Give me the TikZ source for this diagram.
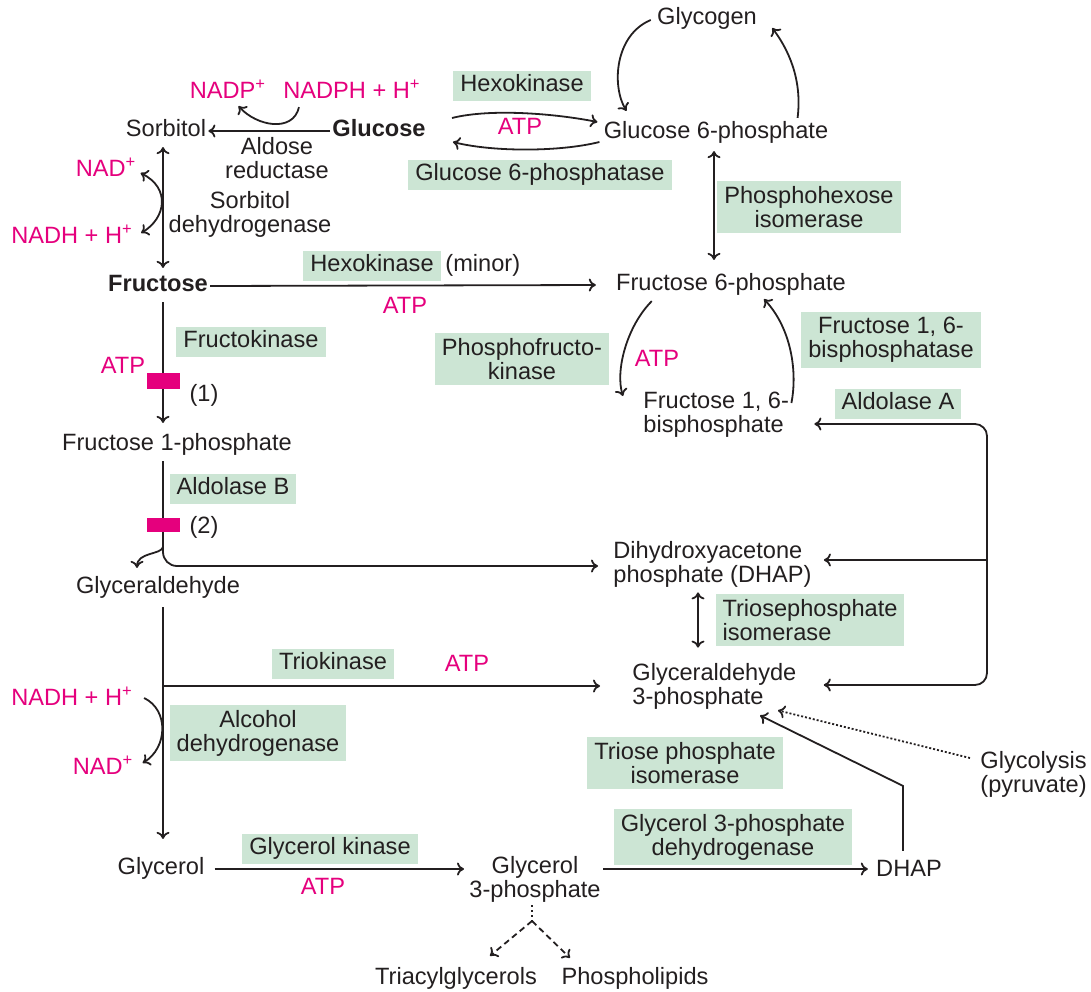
\documentclass[tikz,border=0pt]{standalone}
\usepackage{fontspec}
\setmainfont{Liberation Sans}
\usepackage{tikz}
\usetikzlibrary{arrows.meta, positioning, calc}
\definecolor{pathInk}{HTML}{231F20}
\definecolor{pathCofactor}{HTML}{E5007D}
\definecolor{pathEnzyme}{HTML}{CCE5D4}

\begin{document}
\begin{tikzpicture}[
  x=0.5pt, y=-0.5pt,
  font=\fontsize{11.8}{12}\selectfont,
  every node/.style={text=pathInk},
  lbl/.style={inner sep=1pt, align=center},
  met/.style={lbl, text height=.75em, text depth=.22em},
  metl/.style={lbl, align=left, anchor=west},
  cof/.style={met, text=pathCofactor},
  enz/.style={fill=pathEnzyme, inner xsep=3.5pt, inner ysep=2.6pt, align=center},
  enzone/.style={enz, text height=.75em, text depth=.22em},
  block/.style={fill=pathCofactor, inner sep=0pt, minimum width=16.5pt, minimum height=8pt},
  line/.style={draw=pathInk, line width=0.9pt},
  arr/.style={line, -{Computer Modern Rightarrow[length=3.5pt,width=6.5pt]}},
  dbl/.style={line, {Computer Modern Rightarrow[length=3.5pt,width=6.5pt]}-{Computer Modern Rightarrow[length=3.5pt,width=6.5pt]}}
]
\useasboundingbox (0,0) rectangle (1091,991);

% metabolites
\node[met] (glycogen) at (707,19) {Glycogen};
\node[met] (sorbitol) at (166,131) {Sorbitol};
\node[met] (glucose) at (379,131) {\textbf{Glucose}};
\node[met] (g6p) at (716,133) {Glucose 6-phosphate};
\node[met] (fructose) at (158,286) {\textbf{Fructose}};
\node[met] (f6p) at (731,285) {Fructose 6-phosphate};
\node[metl] (f16bp) at (641,415) {Fructose 1, 6-\\bisphosphate};
\node[met] (f1p) at (177,445) {Fructose 1-phosphate};
\node[metl] (dhap) at (611,564) {Dihydroxyacetone\\phosphate (DHAP)};
\node[met] (glyald) at (158,588) {Glyceraldehyde};
\node[metl] (ga3p) at (630,686) {Glyceraldehyde\\3-phosphate};
\node[metl] (glycolysis) at (978,774) {Glycolysis\\(pyruvate)};
\node[met] (glycerol) at (161,869) {Glycerol};
\node[lbl] (g3p) at (535,879) {Glycerol\\3-phosphate};
\node[met] (dhap2) at (909,871) {DHAP};
\node[met] (tag) at (456,979) {Triacylglycerols};
\node[met] (plip) at (635,979) {Phospholipids};

% plain labels
\node[lbl] (aldred) at (277,158) {Aldose\\reductase};
\node[lbl] (sdh) at (250,214) {Sorbitol\\dehydrogenase};
\node[met] (one) at (204,396) {(1)};
\node[met] (two) at (204,528) {(2)};

% cofactors
\node[cof] (nadp) at (228,93) {NADP\textsuperscript{+}};
\node[cof] (nadph) at (352,93) {NADPH + H\textsuperscript{+}};
\node[cof] (atp1) at (520,129) {ATP};
\node[cof] (nad1) at (106,171) {NAD\textsuperscript{+}};
\node[cof] (nadh1) at (72,238) {NADH + H\textsuperscript{+}};
\node[cof] (atp2) at (405,308) {ATP};
\node[cof] (atp3) at (657,361) {ATP};
\node[cof] (atp4) at (123,368) {ATP};
\node[cof] (atp5) at (467,666) {ATP};
\node[cof] (nadh2) at (72,700) {NADH + H\textsuperscript{+}};
\node[cof] (nad2) at (103,769) {NAD\textsuperscript{+}};
\node[cof] (atp6) at (323,889) {ATP};

% enzymes
\node[enzone] (hk1) at (522,86) {Hexokinase};
\node[enzone] (g6pase) at (540,175) {Glucose 6-phosphatase};
\node[enz] (phi) at (809,207) {Phosphohexose\\isomerase};
\node[enzone] (hk2) at (372,266) {Hexokinase};
\node[met, right=1pt of hk2] (minor) {(minor)};
\node[enzone] (fk) at (251,342) {Fructokinase};
\node[enz] (fbpase) at (891,340) {Fructose 1, 6-\\bisphosphatase};
\node[enz] (pfk) at (522,359) {Phosphofructo-\\kinase};
\node[enzone] (aldA) at (898,404) {Aldolase A};
\node[enzone] (aldB) at (233,489) {Aldolase B};
\node[enz, align=left] (tpi) at (810,620) {Triosephosphate\\isomerase};
\node[enzone] (trio) at (333,664) {Triokinase};
\node[enz] (adh) at (258,733) {Alcohol\\dehydrogenase};
\node[enz] (tpi2) at (685,763) {Triose phosphate\\isomerase};
\node[enz] (g3pdh) at (733,837) {Glycerol 3-phosphate\\dehydrogenase};
\node[enzone] (gk) at (330,849) {Glycerol kinase};

\coordinate (colL) at (163,0);
\coordinate (colM) at (714,0);
\coordinate (colR) at (698,0);
\coordinate (split) at (163,547);
\coordinate (junc) at (987,560);
\coordinate (gsplit) at (532,921);

% glucose / sorbitol / fructose
\draw[arr] (glucose.west) -- (sorbitol.east);
\draw[arr] ($(nadph.south west)+(18,2)$) .. controls +(-6,26) and +(18,20) .. ($(nadp.south east)+(-30,1)$);
\draw[arr] ($(glucose.east)+(24,-13)$) .. controls +(40,-10) and +(-40,-8) .. ($(g6p.west)+(-4,-11)$);
\draw[arr] ($(g6p.west)+(-2,9)$) .. controls +(-40,10) and +(40,10) .. ($(glucose.east)+(25,11)$);
\draw[arr] ($(glycogen.west)+(-4,1)$) .. controls +(-36,15) and +(-15,-25) .. ($(g6p.north west)+(25,-10)$);
\draw[arr] ($(g6p.north east)+(-33,-3)$) .. controls +(5,-40) and +(15,20) .. ($(glycogen.east)+(13,9)$);
\draw[dbl] ($(g6p.south -| colM)+(0,6)$) -- ($(f6p.north -| colM)+(0,-13)$);
\draw[dbl] ($(sorbitol.south -| colL)+(0,4)$) -- ($(fructose.north -| colL)+(0,-6)$);
\draw[dbl] ($(nad1.east)+(2,2)$) .. controls +(30,15) and +(25,-15) .. ($(nadh1.east)+(6,-5)$);
\draw[arr] (fructose.east) -- ($(f6p.west)+(-18,0)$);

% fructose 6-phosphate cycle
\draw[arr] ($(f6p.south west)+(38,4)$) .. controls +(-25,25) and +(-8,-25) .. ($(f16bp.west)+(-18,-19)$);
\draw[arr] ($(f16bp.east)+(0,-12)$) .. controls +(6,-30) and +(28,30) .. ($(f6p.south)+(33,2)$);

% fructose -> trioses
\draw[arr] ($(fructose.south -| colL)+(0,4)$) -- ($(f1p.north -| colL)+(0,-10)$);
\draw[line] ($(f1p.south -| colL)+(0,4)$) -- (split);
\draw[arr] (split) .. controls +(-2,8) and +(0,-16) .. ($(glyald.north)+(-21,-8)$);
\draw[arr, rounded corners=7pt] (split) |- ($(dhap.west)+(-13,2)$);
\draw[arr] ($(glyald.south -| colL)+(0,7)$) -- ($(glycerol.north -| colL)+(0,-18)$);
\draw[arr] (colL |- ga3p.west) -- ($(ga3p.west)+(-30,0)$);
\draw[arr] ($(nadh2.east)+(9,-2)$) .. controls +(25,12) and +(25,-15) .. ($(nad2.east)+(7,-6)$);
\draw[dbl] ($(dhap.south -| colR)+(0,3)$) -- ($(ga3p.north -| colR)+(0,-13)$);

% aldolase A frame
\draw[arr, rounded corners=6pt] (junc) |- ($(f16bp.east)+(23,9)$);
\draw[arr] (junc) -- ($(dhap.east)+(10,-4)$);
\draw[arr, rounded corners=6pt] (junc) |- ($(ga3p.east)+(25,-1)$);

% glycerol
\draw[arr] ($(glycerol.east)+(8,0)$) -- ($(g3p.west)+(-3,-10)$);
\draw[arr] ($(g3p.east)+(0,-10)$) -- ($(dhap2.west)+(-6,-2)$);
\draw[arr] ($(dhap2.north)+(-6,-8)$) -- ++(0,-65) -- ($(ga3p.south west)+(130,4)$);
\draw[arr, dash pattern=on 1pt off 1pt] ($(glycolysis.west)+(-8,-16)$) -- ($(ga3p.south west)+(148,-1)$);
\draw[line, dash pattern=on 1pt off 1.5pt] ($(g3p.south)+(-3,1)$) -- (gsplit);
\draw[arr, dash pattern=on 3pt off 2pt] (gsplit) -- ($(tag.north)+(34,-11)$);
\draw[arr, dash pattern=on 3pt off 2pt] (gsplit) -- ($(plip.north)+(-65,-9)$);

% blocks
\node[block] (blk1) at (163,381) {};
\node[block, minimum height=7pt] (blk2) at (163,525) {};

\end{tikzpicture}
\end{document}
